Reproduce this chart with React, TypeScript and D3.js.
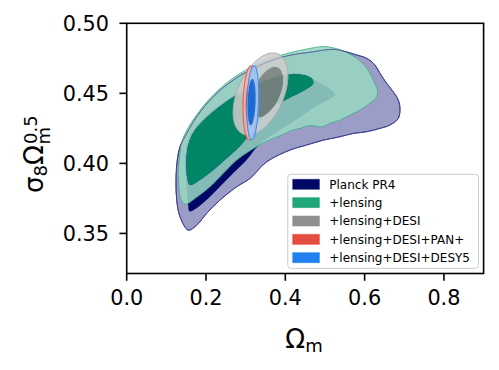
import React from 'react';
import * as d3 from 'd3';

const W = 499;
const H = 370;
const PLOT = { left: 126.7, right: 483.6, top: 23.3, bottom: 273.5 };

const xDomain: [number, number] = [0, 0.9];
const yDomain: [number, number] = [0.3214, 0.5];
const xTicks = [0, 0.2, 0.4, 0.6, 0.8];
const xTickLabels = ['0.0', '0.2', '0.4', '0.6', '0.8'];
const yTicks = [0.35, 0.4, 0.45, 0.5];
const yTickLabels = ['0.35', '0.40', '0.45', '0.50'];

// Planck PR4 contours (Omega_m, sigma8 Omega_m^0.5)
const planck95: [number, number][] = [
  [0.1553, 0.3524], [0.1344, 0.3619], [0.1261, 0.3738], [0.1243, 0.3881], [0.1276, 0.4024],
  [0.1344, 0.4119], [0.147, 0.419], [0.1765, 0.4333], [0.2184, 0.4476], [0.2688, 0.4595],
  [0.3278, 0.469], [0.3949, 0.4761], [0.4705, 0.4797], [0.5209, 0.4814], [0.5504, 0.4799],
  [0.5799, 0.4774], [0.6051, 0.475], [0.6261, 0.4702], [0.6387, 0.4643], [0.6556, 0.4571],
  [0.6722, 0.4511], [0.6848, 0.4452], [0.6891, 0.4393], [0.6848, 0.4321], [0.6639, 0.4274],
  [0.6387, 0.425], [0.6051, 0.4226], [0.5714, 0.4214], [0.5378, 0.419], [0.4957, 0.4166],
  [0.4539, 0.4131], [0.4117, 0.4095], [0.353, 0.4011], [0.3109, 0.3893], [0.2774, 0.3833],
  [0.2352, 0.3738], [0.2017, 0.3643], [0.1765, 0.3559],
];
const planck68: [number, number][] = [
  [0.1583, 0.3656], [0.1765, 0.3679], [0.2017, 0.3738], [0.2352, 0.3833], [0.2688, 0.3929],
  [0.3026, 0.4024], [0.3311, 0.4124], [0.3664, 0.4202], [0.4067, 0.4274], [0.442, 0.4338],
  [0.4748, 0.4402], [0.5076, 0.4452], [0.5252, 0.4488], [0.5126, 0.4531], [0.4924, 0.4566],
  [0.4647, 0.4613], [0.4445, 0.4641], [0.4034, 0.4641], [0.3437, 0.4595], [0.2769, 0.4499],
  [0.2176, 0.4381], [0.1886, 0.4306], [0.1646, 0.4227], [0.152, 0.4138], [0.147, 0.4045],
  [0.147, 0.3966], [0.1495, 0.3881], [0.152, 0.3774], [0.1546, 0.3709],
];
// +lensing contours
const lensing95: [number, number][] = [
  [0.147, 0.3709], [0.1357, 0.3752], [0.1319, 0.3824], [0.1301, 0.3929], [0.1331, 0.4045],
  [0.1394, 0.4159], [0.152, 0.4238], [0.1672, 0.4309], [0.2075, 0.4456], [0.2579, 0.4588],
  [0.3185, 0.4694], [0.3865, 0.477], [0.4539, 0.4816], [0.4957, 0.4834], [0.5209, 0.4825],
  [0.5461, 0.4802], [0.5799, 0.475], [0.6051, 0.4679], [0.6218, 0.4595], [0.6319, 0.4524],
  [0.6304, 0.4476], [0.6135, 0.4429], [0.5883, 0.4381], [0.5631, 0.4345], [0.5378, 0.4309],
  [0.5126, 0.4286], [0.4917, 0.4261], [0.4622, 0.427], [0.437, 0.425], [0.4118, 0.4231],
  [0.3908, 0.4202], [0.3487, 0.4152], [0.3109, 0.4091], [0.2774, 0.4024], [0.2436, 0.3929],
  [0.21, 0.3833], [0.1765, 0.3759],
];
const lensing68: [number, number][] = [
  [0.1596, 0.3845], [0.1528, 0.3895], [0.1508, 0.3966], [0.1508, 0.4045], [0.1553, 0.4131],
  [0.1672, 0.4216], [0.1899, 0.4295], [0.2184, 0.4369], [0.2774, 0.4488], [0.3444, 0.4583],
  [0.4034, 0.4631], [0.4453, 0.4631], [0.4665, 0.4607], [0.4705, 0.4571], [0.4571, 0.4538],
  [0.4412, 0.4511], [0.4075, 0.4464], [0.3739, 0.4413], [0.3412, 0.4324], [0.3109, 0.4209],
  [0.2857, 0.4124], [0.2521, 0.4036], [0.2184, 0.3952], [0.1848, 0.3881],
];
// Near-Gaussian contours: [centre Omega_m, centre S, half-width, half-height, correlation]
const desi95 = [0.3374, 0.4495, 0.0693, 0.0293, 0.45];
const desi68 = [0.3538, 0.4509, 0.0403, 0.0179, 0.5];
const pan95 = [0.3109, 0.4431, 0.0177, 0.0264, 0.12];
const pan68 = [0.3109, 0.4431, 0.0108, 0.0164, 0.12];
const desy95 = [0.318, 0.4434, 0.0151, 0.0264, 0.2];
const desy68 = [0.3152, 0.4438, 0.0101, 0.0166, 0.2];

const legendLabels = ['Planck PR4', '+lensing', '+lensing+DESI', '+lensing+DESI+PAN+', '+lensing+DESI+DESY5'];
const legendColors = ['#000866', '#009966', '#808080', '#E03424', '#006FED'];

const FONT = '"DejaVu Sans", sans-serif';

function ellipsePoints(p: number[]): [number, number][] {
  const [cx, cy, a, b, r] = p;
  const n = 140;
  return d3.range(n).map((i) => {
    const t = (i / n) * 2 * Math.PI;
    return [cx + a * Math.cos(t), cy + b * (r * Math.cos(t) + Math.sqrt(1 - r * r) * Math.sin(t))] as [number, number];
  });
}

export default function App() {
  const x = d3.scaleLinear().domain(xDomain).range([PLOT.left, PLOT.right]);
  const y = d3.scaleLinear().domain(yDomain).range([PLOT.bottom, PLOT.top]);
  const smoothGen = d3
    .line<[number, number]>()
    .x((d) => x(d[0]))
    .y((d) => y(d[1]))
    .curve(d3.curveCatmullRomClosed.alpha(0.5));
  const polyGen = d3
    .line<[number, number]>()
    .x((d) => x(d[0]))
    .y((d) => y(d[1]))
    .curve(d3.curveLinearClosed);
  const smooth = (p: [number, number][]) => smoothGen(p) || '';
  const ell = (p: number[]) => polyGen(ellipsePoints(p)) || '';

  const A = 0.87;
  const rowY = (i: number) => 184.3 + i * 18.35;

  const ContourSet = (props: {
    outer: string;
    inner: string;
    outerFill: string;
    innerFill: string;
    opacity: number;
    edge: string;
    edgeWidth: number;
    edgeOpacity: number;
  }) => (
    <g>
      <path d={props.outer + props.inner} fill={props.outerFill} fillOpacity={props.opacity} fillRule="evenodd" />
      <path d={props.inner} fill={props.innerFill} fillOpacity={props.opacity} />
      <path d={props.outer} fill="none" stroke={props.edge} strokeWidth={props.edgeWidth} strokeOpacity={props.edgeOpacity} />
    </g>
  );

  return (
    <svg
      width={W}
      height={H}
      viewBox={`0 0 ${W} ${H}`}
      style={{ position: 'absolute', left: 0, top: 0, background: '#fff' }}
      fontFamily={FONT}
    >
      <defs>
        <clipPath id="plotclip">
          <rect x={PLOT.left} y={PLOT.top} width={PLOT.right - PLOT.left} height={PLOT.bottom - PLOT.top} />
        </clipPath>
      </defs>
      <rect x={0} y={0} width={W} height={H} fill="#fff" />
      <g clipPath="url(#plotclip)">
        <ContourSet outer={smooth(planck95)} inner={smooth(planck68)} outerFill="#9b9dc7" innerFill="#000866"
          opacity={1} edge="#3d3f93" edgeWidth={1} edgeOpacity={1} />
        <ContourSet outer={smooth(lensing95)} inner={smooth(lensing68)} outerFill="#99d6c2" innerFill="#009966"
          opacity={A} edge="#3fae88" edgeWidth={1} edgeOpacity={0.8} />
        <path d={smooth(planck95)} fill="none" stroke="#3d3f93" strokeWidth={1} strokeOpacity={0.55} />
        <ContourSet outer={ell(desi95)} inner={ell(desi68)} outerFill="#cccccc" innerFill="#808080"
          opacity={A} edge="#a8a8a8" edgeWidth={0.9} edgeOpacity={1} />
        <path d={smooth(planck95)} fill="none" stroke="#3d3f93" strokeWidth={0.9} strokeOpacity={0.35} />
        <ContourSet outer={ell(pan95)} inner={ell(pan68)} outerFill="#f3aea7" innerFill="#E03424"
          opacity={A} edge="#e8604f" edgeWidth={1.1} edgeOpacity={1} />
        <ContourSet outer={ell(desy95)} inner={ell(desy68)} outerFill="#99c5f8" innerFill="#006FED"
          opacity={A} edge="#3f8ff0" edgeWidth={1.1} edgeOpacity={1} />
      </g>

      <rect
        x={PLOT.left}
        y={PLOT.top}
        width={PLOT.right - PLOT.left}
        height={PLOT.bottom - PLOT.top}
        fill="none"
        stroke="#000"
        strokeWidth={1.6}
      />
      {xTicks.map((t, i) => (
        <g key={`xt${i}`}>
          <line x1={x(t)} x2={x(t)} y1={PLOT.bottom} y2={PLOT.bottom + 7.3} stroke="#000" strokeWidth={1.6} />
          <text x={x(t)} y={305} textAnchor="middle" fontSize={20.8} fill="#000">
            {xTickLabels[i]}
          </text>
        </g>
      ))}
      {yTicks.map((t, i) => (
        <g key={`yt${i}`}>
          <line x1={PLOT.left - 7.3} x2={PLOT.left} y1={y(t)} y2={y(t)} stroke="#000" strokeWidth={1.6} />
          <text x={109} y={y(t) + 7.6} textAnchor="end" fontSize={20.8} fill="#000">
            {yTickLabels[i]}
          </text>
        </g>
      ))}

      <text x={304} y={348.3} textAnchor="middle" fontSize={26} fill="#000">
        Ω<tspan fontSize={18} dy={3.6}>m</tspan>
      </text>
      <g transform="translate(43,193) rotate(-90)">
        <text x={0} y={0} fontSize={26} fill="#000">σ</text>
        <text x={16.5} y={4} fontSize={18} fill="#000">8</text>
        <text x={28} y={0} fontSize={26} fill="#000">Ω</text>
        <text x={48.5} y={6.5} fontSize={18} fill="#000">m</text>
        <text x={49} y={-6} fontSize={18} fill="#000">0.5</text>
      </g>

      <rect x={287.8} y={174.3} width={190.7} height={94} rx={3} fill="#fff" fillOpacity={0.8} stroke="#cccccc" strokeWidth={1} />
      {legendLabels.map((lab, i) => (
        <g key={`lg${i}`}>
          <rect
            x={292.7}
            y={rowY(i) - 5}
            width={26.7}
            height={10}
            fill={legendColors[i]}
            fillOpacity={i === 0 ? 1 : A}
            stroke={legendColors[i]}
            strokeOpacity={0.45}
            strokeWidth={1}
          />
          <text x={329.3} y={rowY(i) + 4.3} fontSize={12} fill="#000">
            {lab}
          </text>
        </g>
      ))}
    </svg>
  );
}
